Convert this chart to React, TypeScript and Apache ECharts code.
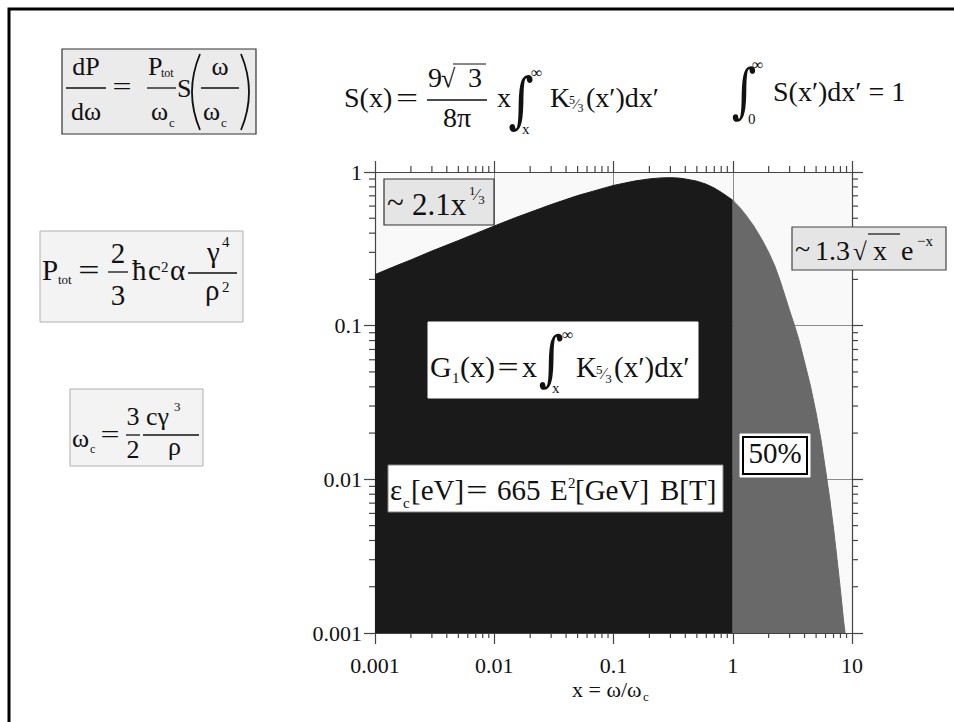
import React, { useEffect, useRef } from 'react';
import * as echarts from 'echarts';

// ---- axis ranges & tick labels ----
const X_MIN = 0.001;
const X_MAX = 10;
const Y_MIN = 0.001;
const Y_MAX = 1;
const xTickLabels = ['0.001', '0.01', '0.1', '1', '10'];
const yTickLabels = ['0.001', '0.01', '0.1', '1'];
const minorMultipliers = [2, 3, 4, 5, 6, 7, 8, 9];
const xDecades = [0.001, 0.01, 0.1, 1];
const yDecades = [0.001, 0.01, 0.1];

// ---- G1(x): part below x = 1 (dark) ----
const xBelow = [0.001, 0.0015, 0.002, 0.003, 0.005, 0.007, 0.01, 0.015, 0.02, 0.03, 0.05, 0.07, 0.1, 0.15, 0.2, 0.25, 0.3, 0.35, 0.4, 0.5, 0.6, 0.7, 0.8, 0.9, 1];
const gBelow = [0.215, 0.245, 0.268, 0.306, 0.358, 0.398, 0.445, 0.504, 0.547, 0.614, 0.702, 0.756, 0.818, 0.873, 0.902, 0.915, 0.918, 0.913, 0.901, 0.872, 0.832, 0.786, 0.738, 0.694, 0.655];
// ---- part above x = 1 (grey, 50 %) ----
const xAbove = [1, 1.15, 1.3, 1.5, 1.75, 2, 2.25, 2.5, 2.75, 3, 3.3, 3.6, 4, 4.5, 5, 5.5, 6, 6.5, 7, 7.5, 8, 8.5, 8.75];
const gAbove = [0.655, 0.585, 0.52, 0.445, 0.365, 0.30, 0.245, 0.195, 0.155, 0.125, 0.10, 0.08, 0.058, 0.040, 0.027, 0.018, 0.0115, 0.0075, 0.0048, 0.003, 0.0019, 0.0012, 0.001];

const FF = '"Liberation Serif", "Times New Roman", Times, serif';
const INK = '#111';

type O = { align?: string; sx?: number; sy?: number; ff?: string; fill?: string };
function T(text: string, x: number, base: number, fs: number, o: O = {}) {
  return {
    type: 'text',
    z: 120,
    x,
    y: base - 0.34 * fs,
    scaleX: o.sx ?? 1,
    scaleY: o.sy ?? 1,
    silent: true,
    style: {
      text,
      fill: o.fill ?? INK,
      fontFamily: o.ff ?? FF,
      fontSize: fs,
      textAlign: o.align ?? 'left',
      verticalAlign: 'middle',
      textVerticalAlign: 'middle',
    },
  };
}
// bevelled fraction such as 5⁄3 as one rich text
function Bev(num: string, den: string, x: number, yMid: number, fs: number) {
  return {
    type: 'text',
    z: 120,
    x,
    y: yMid,
    silent: true,
    style: {
      text: `{n|${num}}{s|⁄}{d|${den}}`,
      fill: INK,
      fontFamily: FF,
      fontSize: fs,
      textAlign: 'left',
      verticalAlign: 'middle',
      textVerticalAlign: 'middle',
      rich: {
        n: { fontFamily: FF, fontSize: fs, fill: INK, color: INK, lineHeight: fs, verticalAlign: 'top' },
        s: { fontFamily: FF, fontSize: fs * 1.25, fill: INK, color: INK, lineHeight: fs * 1.7, verticalAlign: 'middle' },
        d: { fontFamily: FF, fontSize: fs, fill: INK, color: INK, lineHeight: fs, verticalAlign: 'bottom' },
      },
    },
  };
}
function L(x1: number, y1: number, x2: number, y2: number, w = 1.3, c = INK) {
  return { type: 'line', z: 120, silent: true, shape: { x1, y1, x2, y2 }, style: { stroke: c, lineWidth: w } };
}
function R(x: number, y: number, w: number, h: number, fill: string, stroke: string, lw = 1) {
  return { type: 'rect', z: 110, silent: true, shape: { x, y, width: w, height: h }, style: { fill, stroke, lineWidth: lw } };
}
function Paren(x: number, yTop: number, yBot: number, mid: number) {
  return {
    type: 'bezierCurve', z: 120, silent: true,
    shape: { x1: x, y1: yTop, x2: x, y2: yBot, cpx1: x + 2 * (mid - x), cpy1: (yTop + yBot) / 2 },
    style: { stroke: INK, lineWidth: 1.8, fill: 'rgba(0,0,0,0)' },
  };
}
function Integral(cx: number, yTop: number, yBot: number) {
  const h = yBot - yTop;
  const fs = h * 0.95;
  return T('∫', cx, (yTop + yBot) / 2 + 0.34 * fs, fs, { align: 'center', ff: '"DejaVu Serif", serif', sx: 0.8 });
}

function buildGraphics() {
  const g: any[] = [];
  // outer frame
  g.push({ type: 'rect', z: 130, silent: true, shape: { x: 9, y: 9, width: 1000, height: 800 }, style: { fill: 'rgba(0,0,0,0)', stroke: '#000', lineWidth: 3 } });

  // dP/dω box
  g.push(R(62, 49, 194, 85, '#ebebeb', '#333', 1.2));
  g.push(T('dP', 86, 75, 26, { align: 'center' }));
  g.push(L(66, 88, 106, 88));
  g.push(T('dω', 86, 120, 26, { align: 'center' }));
  g.push(T('=', 122, 95, 26, { align: 'center', sx: 1.3 }));
  g.push(T('P', 148, 75, 26));
  g.push(T('tot', 161, 77, 12));
  g.push(L(147, 88, 176, 88));
  g.push(T('ω', 151, 120, 26));
  g.push(T('c', 169, 127, 13));
  g.push(T('S', 177, 97, 26));
  g.push(Paren(200, 54, 130, 192));
  g.push(T('ω', 220, 75, 26, { align: 'center' }));
  g.push(L(201, 88, 239, 88));
  g.push(T('ω', 203, 120, 26));
  g.push(T('c', 221, 127, 13));
  g.push(Paren(241, 54, 130, 249));

  // P_tot box
  g.push(R(40, 231, 203, 91, '#f3f3f3', '#b0b0b0', 1));
  g.push(T('P', 42, 280, 29));
  g.push(T('tot', 58, 284, 13));
  g.push(T('=', 89, 280, 29, { align: 'center', sx: 1.3 }));
  g.push(T('2', 118, 263, 29, { align: 'center' }));
  g.push(L(108, 272, 128, 272));
  g.push(T('3', 118, 305, 29, { align: 'center' }));
  g.push(T('ħ', 132, 280, 29));
  g.push(T('c', 148, 280, 29));
  g.push(T('2', 161, 272, 15));
  g.push(T('α', 170, 280, 29));
  g.push(L(188, 273, 237, 273));
  g.push(T('γ', 207, 262, 29));
  g.push(T('4', 222, 247, 15));
  g.push(T('ρ', 205, 300, 29));
  g.push(T('2', 222, 292, 15));

  // ω_c box
  g.push(R(70, 389, 133, 77, '#f3f3f3', '#b0b0b0', 1));
  g.push(T('ω', 72, 447, 26));
  g.push(T('c', 90, 453, 12));
  g.push(T('=', 110, 443, 26, { align: 'center', sx: 1.3 }));
  g.push(T('3', 133, 425, 26, { align: 'center' }));
  g.push(L(126, 435, 140, 435));
  g.push(T('2', 133, 458, 26, { align: 'center' }));
  g.push(T('cγ', 146, 425, 26));
  g.push(T('3', 174, 411, 13));
  g.push(L(143, 435, 199, 435));
  g.push(T('ρ', 168, 455, 26));

  // S(x) formula
  g.push(T('S(x)', 344, 107, 28));
  g.push(T('=', 407, 107, 28, { align: 'center', sx: 1.4 }));
  g.push(T('9', 428, 87, 28));
  g.push(T('√', 441, 87, 26));
  g.push(L(453, 64, 486, 64, 1.2));
  g.push(T('3', 468, 87, 28));
  g.push(L(427, 100, 487, 100));
  g.push(T('8π', 457, 127, 28, { align: 'center' }));
  g.push(T('x', 497, 107, 28));
  g.push(Integral(521, 68, 132));
  g.push(T('∞', 531, 78, 16));
  g.push(T('x', 522, 134, 15));
  g.push(T('K', 550, 107, 28));
  g.push(Bev('5', '3', 569, 104, 12));
  g.push(T('(x′)dx′', 586, 107, 28));

  // normalisation formula
  g.push(Integral(744, 60, 122));
  g.push(T('∞', 752, 70, 16));
  g.push(T('0', 748, 124, 15));
  g.push(T('S(x′)dx′ = 1', 773, 101, 28));

  // G1 box
  g.push(R(428, 322, 270, 76, '#ffffff', '#ffffff', 1));
  g.push(T('G', 430, 377, 30));
  g.push(T('1', 452, 383, 15));
  g.push(T('(x)', 460, 377, 30));
  g.push(T('=', 508, 377, 30, { align: 'center', sx: 1.25 }));
  g.push(T('x', 522, 377, 30));
  g.push(Integral(551, 327, 390));
  g.push(T('∞', 562, 340, 16));
  g.push(T('x', 552, 393, 15));
  g.push(T('K', 576, 377, 29));
  g.push(Bev('5', '3', 596, 374, 13));
  g.push(T('(x′)dx′', 614, 377, 29));

  // ε_c box
  g.push(R(388, 465, 335, 47, '#ffffff', '#888888', 1));
  g.push(T('ε', 390, 500, 29));
  g.push(T('c', 403, 508, 15));
  g.push(T('[eV]', 411, 500, 29));
  g.push(T('=', 477, 500, 29, { align: 'center', sx: 1.3 }));
  g.push(T('665', 497, 500, 29));
  g.push(T('E', 550, 500, 29));
  g.push(T('2', 568, 488, 15));
  g.push(T('[GeV]', 575, 500, 29));
  g.push(T('B[T]', 660, 500, 29));

  // 50% box
  g.push(R(740, 434, 70, 43, '#ffffff', '#ffffff', 1));
  g.push(R(743, 437, 64, 37, '#ffffff', '#000000', 2));
  g.push(T('50%', 775, 463, 29, { align: 'center' }));

  // ~2.1 x^(1/3)
  g.push(R(384, 179, 110, 46, '#e5e5e5', '#333', 1.2));
  g.push(T('~', 387, 213, 31));
  g.push(T('2.1x', 412, 215, 31));
  g.push(Bev('1', '3', 469, 195, 13));

  // ~1.3 sqrt(x) e^-x
  g.push(R(792, 227, 154, 43, '#e5e5e5', '#444', 1.2));
  g.push(T('~', 795, 258, 28));
  g.push(T('1.3', 815, 260, 28));
  g.push(T('√', 853, 260, 25));
  g.push(L(868, 234, 900, 234, 1.2));
  g.push(T('x', 873, 260, 28));
  g.push(T('e', 901, 260, 28));
  g.push(T('−x', 917, 246, 15));

  // x-axis title
  g.push(T('x = ω/ω', 572, 697, 22));
  g.push(T('c', 643, 701, 13));
  return g;
}

function labelFor(labels: string[], v: number) {
  const e = Math.round(Math.log10(v));
  return labels[e + 3] ?? '';
}

export default function App() {
  const ref = useRef<HTMLDivElement>(null);
  useEffect(() => {
    if (!ref.current) return;
    const chart = echarts.init(ref.current, undefined, { renderer: 'svg' });
    const axisLineStyle = { color: '#444', width: 1.2 };
    const labelStyle = { fontFamily: FF, fontSize: 22, color: INK };
    const common = { type: 'log', logBase: 10, minorTick: { show: false }, minorSplitLine: { show: false } };
    const option: any = {
      animation: false,
      backgroundColor: '#ffffff',
      grid: { left: 375, right: 102, top: 172, bottom: 89, show: true, backgroundColor: '#f9f9f9', borderWidth: 0 },
      xAxis: [
        {
          ...common, min: X_MIN, max: X_MAX, position: 'bottom',
          axisLine: { show: true, onZero: false, lineStyle: axisLineStyle },
          axisTick: { show: true, inside: false, length: 11, lineStyle: axisLineStyle },
          axisLabel: { show: true, margin: 21, ...labelStyle, formatter: (v: number) => labelFor(xTickLabels, v) },
          splitLine: { show: true, lineStyle: { color: '#8c8c8c', width: 1 } },
        },
        {
          ...common, min: X_MIN, max: X_MAX, position: 'top',
          axisLine: { show: true, onZero: false, lineStyle: axisLineStyle },
          axisTick: { show: true, inside: false, length: 11, lineStyle: axisLineStyle },
          axisLabel: { show: false },
          splitLine: { show: false },
        },
      ],
      yAxis: [
        {
          ...common, min: Y_MIN, max: Y_MAX, position: 'left',
          axisLine: { show: true, onZero: false, lineStyle: axisLineStyle },
          axisTick: { show: true, inside: false, length: 11, lineStyle: axisLineStyle },
          axisLabel: { show: true, margin: 13, ...labelStyle, formatter: (v: number) => labelFor(yTickLabels, v) },
          splitLine: { show: true, lineStyle: { color: '#8c8c8c', width: 1 } },
        },
        {
          ...common, min: Y_MIN, max: Y_MAX, position: 'right',
          axisLine: { show: true, onZero: false, lineStyle: axisLineStyle },
          axisTick: { show: true, inside: false, length: 11, lineStyle: axisLineStyle },
          axisLabel: { show: false },
          splitLine: { show: false },
        },
      ],
      series: [
        {
          type: 'line', xAxisIndex: 0, yAxisIndex: 0, z: 3,
          data: xBelow.map((x, i) => [x, gBelow[i]]),
          symbol: 'none', showSymbol: false, clip: true,
          lineStyle: { width: 1, color: '#1a1a1a' },
          areaStyle: { color: '#1a1a1a', opacity: 1, origin: 'start' },
        },
        {
          type: 'line', xAxisIndex: 0, yAxisIndex: 0, z: 3,
          data: xAbove.map((x, i) => [x, gAbove[i]]),
          symbol: 'none', showSymbol: false, clip: true,
          lineStyle: { width: 1, color: '#696969' },
          areaStyle: { color: '#696969', opacity: 1, origin: 'start' },
        },
        {
          type: 'custom', xAxisIndex: 0, yAxisIndex: 0, z: 5, silent: true, clip: false,
          data: [[1, 0.1]],
          renderItem: (_p: any, api: any) => {
            const st = { stroke: '#444', lineWidth: 1.2 };
            const children: any[] = [];
            for (const d of xDecades) {
              for (const m of minorMultipliers) {
                const v = d * m;
                const b = api.coord([v, Y_MIN]);
                const t = api.coord([v, Y_MAX]);
                children.push({ type: 'line', shape: { x1: b[0], y1: b[1], x2: b[0], y2: b[1] + 5 }, style: st });
                children.push({ type: 'line', shape: { x1: t[0], y1: t[1], x2: t[0], y2: t[1] - 6 }, style: st });
              }
            }
            for (const d of yDecades) {
              for (const m of minorMultipliers) {
                const v = d * m;
                const l = api.coord([X_MIN, v]);
                const r = api.coord([X_MAX, v]);
                children.push({ type: 'line', shape: { x1: l[0], y1: l[1], x2: l[0] - 6, y2: l[1] }, style: st });
                children.push({ type: 'line', shape: { x1: r[0], y1: r[1], x2: r[0] + 6, y2: r[1] }, style: st });
              }
            }
            return { type: 'group', children };
          },
        },
      ],
      graphic: buildGraphics(),
    };
    chart.setOption(option);
    return () => chart.dispose();
  }, []);
  return <div ref={ref} style={{ position: 'absolute', left: 0, top: 0, width: 954, height: 722 }} />;
}
